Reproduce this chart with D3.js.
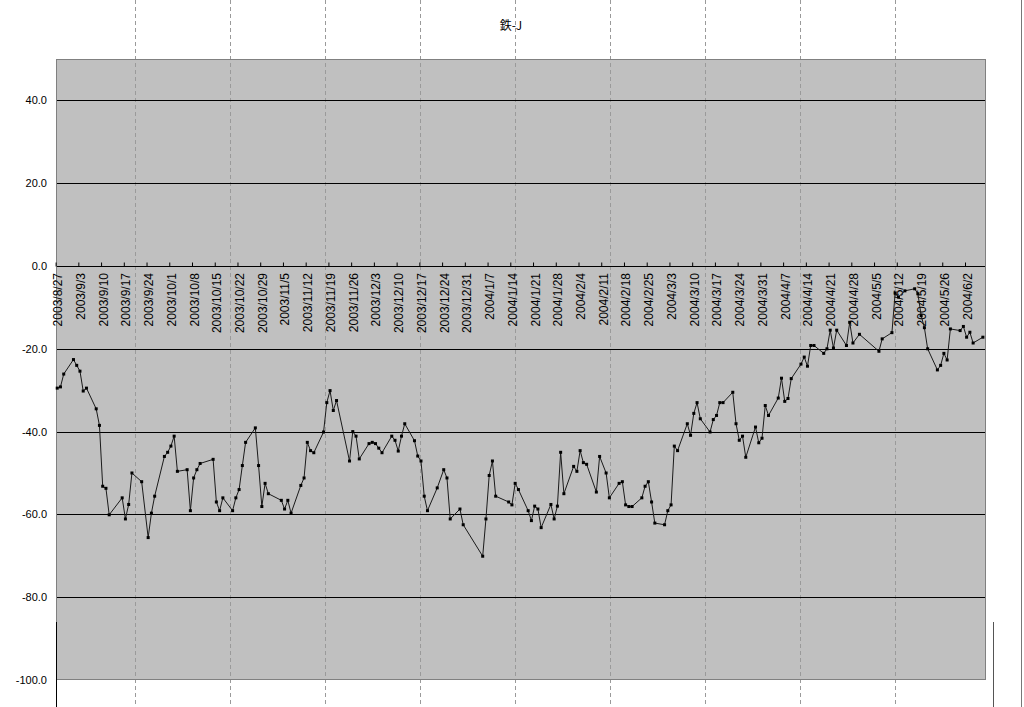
<!DOCTYPE html>
<html><head><meta charset="utf-8">
<script src="https://cdn.jsdelivr.net/npm/d3@7"></script>
<style>
body{margin:0;background:#fff}
svg{display:block}
text{font-family:"Liberation Sans",Arial,sans-serif;fill:#000}
</style>
</head><body>
<svg id="c" width="1024" height="707"></svg>
<script>
const title = "鉄-J";
const dates = [
"2003-08-27","2003-08-28","2003-08-29","2003-09-01","2003-09-02","2003-09-03","2003-09-04","2003-09-05",
"2003-09-08","2003-09-09","2003-09-10","2003-09-11","2003-09-12","2003-09-16","2003-09-17","2003-09-18","2003-09-19",
"2003-09-22","2003-09-24","2003-09-25","2003-09-26","2003-09-29","2003-09-30","2003-10-01","2003-10-02","2003-10-03",
"2003-10-06","2003-10-07","2003-10-08","2003-10-09","2003-10-10","2003-10-14","2003-10-15","2003-10-16","2003-10-17",
"2003-10-20","2003-10-21","2003-10-22","2003-10-23","2003-10-24","2003-10-27","2003-10-28","2003-10-29","2003-10-30","2003-10-31",
"2003-11-04","2003-11-05","2003-11-06","2003-11-07","2003-11-10","2003-11-11","2003-11-12","2003-11-13","2003-11-14",
"2003-11-17","2003-11-18","2003-11-19","2003-11-20","2003-11-21","2003-11-25","2003-11-26","2003-11-27","2003-11-28",
"2003-12-01","2003-12-02","2003-12-03","2003-12-04","2003-12-05","2003-12-08","2003-12-09","2003-12-10","2003-12-11","2003-12-12",
"2003-12-15","2003-12-16","2003-12-17","2003-12-18","2003-12-19","2003-12-22","2003-12-24","2003-12-25","2003-12-26",
"2003-12-29","2003-12-30","2004-01-05","2004-01-06","2004-01-07","2004-01-08","2004-01-09",
"2004-01-13","2004-01-14","2004-01-15","2004-01-16","2004-01-19","2004-01-20","2004-01-21","2004-01-22","2004-01-23",
"2004-01-26","2004-01-27","2004-01-28","2004-01-29","2004-01-30","2004-02-02","2004-02-03","2004-02-04","2004-02-05","2004-02-06",
"2004-02-09","2004-02-10","2004-02-12","2004-02-13","2004-02-16","2004-02-17","2004-02-18","2004-02-19","2004-02-20",
"2004-02-23","2004-02-24","2004-02-25","2004-02-26","2004-02-27","2004-03-01","2004-03-02","2004-03-03","2004-03-04","2004-03-05",
"2004-03-08","2004-03-09","2004-03-10","2004-03-11","2004-03-12","2004-03-15","2004-03-16","2004-03-17","2004-03-18","2004-03-19",
"2004-03-22","2004-03-23","2004-03-24","2004-03-25","2004-03-26","2004-03-29","2004-03-30","2004-03-31","2004-04-01","2004-04-02",
"2004-04-05","2004-04-06","2004-04-07","2004-04-08","2004-04-09","2004-04-12","2004-04-13","2004-04-14","2004-04-15","2004-04-16",
"2004-04-19","2004-04-20","2004-04-21","2004-04-22","2004-04-23","2004-04-26","2004-04-27","2004-04-28","2004-04-30",
"2004-05-06","2004-05-07","2004-05-10","2004-05-11","2004-05-12","2004-05-14","2004-05-17","2004-05-18","2004-05-19","2004-05-20","2004-05-21",
"2004-05-24","2004-05-25","2004-05-26","2004-05-27","2004-05-28","2004-05-31","2004-06-01","2004-06-02","2004-06-03","2004-06-04","2004-06-07"
];
const values = [
-29.5,-29.2,-26.1,-22.6,-24.0,-25.4,-30.2,-29.5,
-34.5,-38.5,-53.2,-53.7,-60.1,-56.0,-61.1,-57.6,-50.0,
-52.1,-65.6,-59.7,-55.6,-46.0,-45.0,-43.5,-41.1,-49.6,
-49.2,-59.1,-51.2,-49.2,-47.7,-46.7,-57.0,-59.1,-56.0,
-59.1,-56.0,-54.0,-48.2,-42.6,-39.1,-48.2,-58.1,-52.5,-55.0,
-56.6,-58.7,-56.6,-59.7,-53.0,-51.2,-42.6,-44.6,-45.1,
-40.1,-33.0,-30.1,-34.9,-32.5,-47.1,-40.0,-41.1,-46.6,
-42.9,-42.6,-42.9,-44.0,-45.1,-41.1,-42.1,-44.7,-41.1,-38.1,
-42.2,-45.9,-47.1,-55.6,-59.1,-53.6,-49.2,-51.2,-61.1,
-58.7,-62.5,-70.1,-61.1,-50.6,-47.1,-55.6,
-57.0,-57.7,-52.5,-54.0,-59.1,-61.5,-58.0,-58.7,-63.2,
-57.6,-61.1,-58.0,-45.0,-55.0,-48.4,-49.6,-44.6,-47.5,-47.9,
-54.6,-46.0,-50.0,-56.0,-52.5,-52.1,-57.7,-58.1,-58.1,
-56.0,-53.2,-52.1,-57.0,-62.1,-62.5,-59.1,-57.7,-43.5,-44.6,
-38.1,-40.9,-35.6,-33.0,-36.9,-40.1,-37.1,-36.1,-33.0,-33.0,
-30.5,-38.1,-42.1,-41.1,-46.2,-38.9,-42.7,-41.6,-33.7,-36.1,
-31.9,-27.1,-32.7,-32.0,-27.2,-23.7,-22.0,-24.2,-19.2,-19.2,
-21.1,-20.0,-15.5,-19.8,-15.5,-19.2,-13.6,-18.6,-16.5,
-20.6,-17.6,-16.1,-6.5,-7.5,-6.0,-5.5,-6.7,-12.0,-14.9,-20.0,
-25.1,-24.0,-21.1,-22.7,-15.2,-15.6,-14.6,-17.2,-16.0,-18.6,-17.2
];
const yTickValues = [40,20,0,-20,-40,-60,-80,-100];
const yDomain = [-100, 50];
const firstTick = "2003-08-27";
const lastTick = "2004-06-02";

const W = 1024, H = 707;
const plot = {left:56, top:59, right:986, bottom:680};
const svg = d3.select("#c");
const parse = d3.utcParse("%Y-%m-%d");

const x = d3.scaleUtc()
  .domain([parse(firstTick), parse(lastTick)])
  .range([55.6, 965]);
const y = d3.scaleLinear().domain(yDomain).range([plot.bottom, plot.top]);

const data = dates.map((d,i)=>({date: d3.utcHour.offset(parse(d),12), v: values[i]}));

// plot background
svg.append("rect").attr("x",plot.left).attr("y",plot.top)
  .attr("width",plot.right-plot.left).attr("height",plot.bottom-plot.top)
  .attr("fill","#c0c0c0");

// page dashed lines
svg.append("g").selectAll("line").data(d3.range(9)).join("line")
  .attr("x1",i=>135.5+95*i).attr("x2",i=>135.5+95*i)
  .attr("y1",0).attr("y2",H)
  .attr("stroke","#9a9a9a").attr("stroke-width",1).attr("stroke-dasharray","4,3");

// horizontal gridlines
svg.append("g").selectAll("line").data(yTickValues.filter(v=>v>-100)).join("line")
  .attr("x1",plot.left).attr("x2",plot.right)
  .attr("y1",d=>Math.round(y(d))+0.5).attr("y2",d=>Math.round(y(d))+0.5)
  .attr("stroke","#000").attr("stroke-width",1);

// plot border
svg.append("rect").attr("x",plot.left+0.5).attr("y",plot.top+0.5)
  .attr("width",plot.right-plot.left-1).attr("height",plot.bottom-plot.top-1)
  .attr("fill","none").attr("stroke","#808080");

// y axis labels
const yAxis = d3.axisLeft(y).tickValues(yTickValues).tickFormat(d3.format(".1f")).tickSize(0).tickPadding(9);
const gy = svg.append("g").attr("transform",`translate(${plot.left},0)`).call(yAxis);
gy.select(".domain").remove();
gy.selectAll("text").attr("font-size",11).style("font-family",'"Liberation Sans",Arial,sans-serif')
  .text(d=>d3.format(".1f")(d).replace("−","-"));

// x axis on zero line
const weekTicks = d3.utcWednesday.range(parse(firstTick), d3.utcDay.offset(parse(lastTick),1));
const fmt = d=>`${d.getUTCFullYear()}/${d.getUTCMonth()+1}/${d.getUTCDate()}`;
const y0 = Math.round(y(0))+0.5;
const xAxis = d3.axisTop(x).tickValues(weekTicks).tickFormat("").tickSizeInner(4).tickSizeOuter(0);
const gx = svg.append("g").attr("transform",`translate(0,${y0})`).call(xAxis);
gx.select(".domain").remove();
gx.selectAll("line").attr("stroke","#000");
svg.append("g").selectAll("text").data(weekTicks).join("text")
  .attr("transform",d=>`translate(${x(d)+6.5},273) rotate(-90)`)
  .attr("text-anchor","end").attr("font-size",12)
  .text(fmt);

// line + markers
const line = d3.line().x(d=>x(d.date)).y(d=>y(d.v));
svg.append("path").datum(data).attr("d",line)
  .attr("fill","none").attr("stroke","#1a1a1a").attr("stroke-width",1);
svg.append("g").selectAll("rect").data(data).join("rect")
  .attr("x",d=>x(d.date)-1.5).attr("y",d=>y(d.v)-1.5)
  .attr("width",3).attr("height",3).attr("fill","#000");

// title
svg.append("text").attr("x",511).attr("y",30).attr("text-anchor","middle")
  .attr("font-size",12).style("font-family",'"Noto Sans CJK JP","Liberation Sans",sans-serif')
  .text(title);

// page edge lines
svg.append("line").attr("x1",56.5).attr("x2",56.5).attr("y1",622).attr("y2",H).attr("stroke","#000");
svg.append("line").attr("x1",993.5).attr("x2",993.5).attr("y1",622).attr("y2",H).attr("stroke","#555");
svg.append("line").attr("x1",1021.5).attr("x2",1021.5).attr("y1",0).attr("y2",H).attr("stroke","#777");
</script>
</body></html>
